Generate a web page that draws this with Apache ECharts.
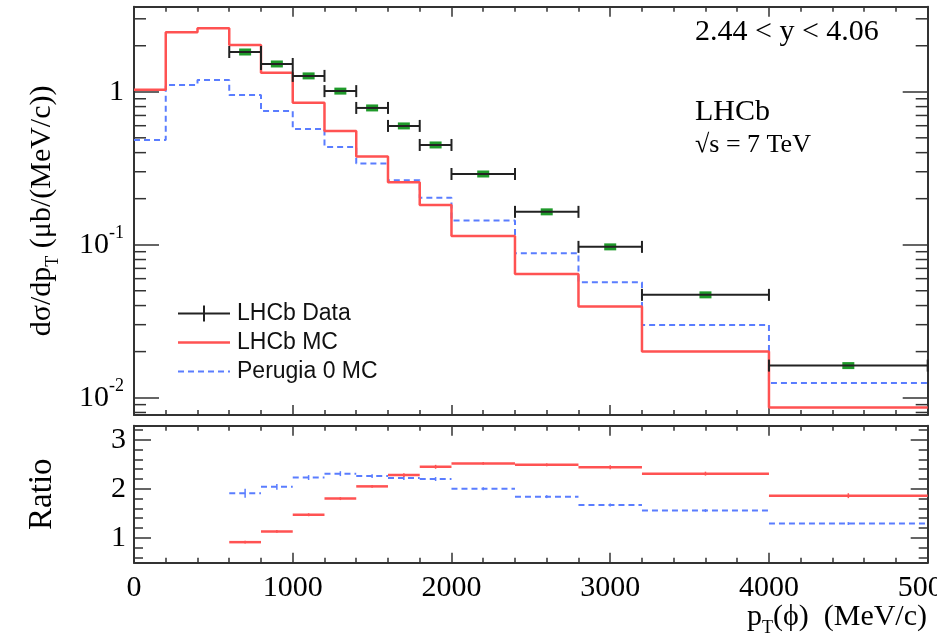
<!DOCTYPE html>
<html>
<head>
<meta charset="utf-8">
<title>phi pT spectrum</title>
<script src="https://cdn.jsdelivr.net/npm/echarts@6/dist/echarts.min.js"></script>
<style>
  html, body { margin: 0; padding: 0; background: #fff; }
  #main { width: 937px; height: 638px; }
</style>
</head>
<body>
<div id="main"></div>
<script>
// bin edges (MeV/c)
var mcEdges = [0, 200, 400, 600, 800, 1000, 1200, 1400, 1600, 1800, 2000, 2400, 2800, 3200, 4000, 5000];
var dataEdges = [600, 800, 1000, 1200, 1400, 1600, 1800, 2000, 2400, 2800, 3200, 4000, 5000];

// d sigma / d pT  (ub/(MeV/c))
var lhcbData = [1.82, 1.52, 1.27, 1.01, 0.784, 0.598, 0.449, 0.290, 0.164, 0.0968, 0.0470, 0.0162];
var lhcbMC = [1.03, 2.45, 2.60, 2.02, 1.33, 0.849, 0.554, 0.377, 0.256, 0.182, 0.114, 0.0644, 0.0394, 0.0200, 0.00861];
var perugiaMC = [0.484, 1.107, 1.194, 0.953, 0.749, 0.571, 0.436, 0.339, 0.264, 0.203, 0.144, 0.0880, 0.0569, 0.0299, 0.01245];

// ratio panel (data / MC)
var ratioMC = [0.91, 1.13, 1.47, 1.80, 2.05, 2.28, 2.45, 2.52, 2.49, 2.44, 2.31, 1.86];
var ratioMCErr = [0.03, 0.03, 0.03, 0.03, 0.03, 0.04, 0.04, 0.03, 0.03, 0.04, 0.04, 0.05];
var ratioPerugia = [1.91, 2.04, 2.23, 2.31, 2.26, 2.22, 2.20, 2.00, 1.84, 1.67, 1.555, 1.29];
var ratioPerugiaErr = [0.09, 0.06, 0.05, 0.05, 0.04, 0.04, 0.04, 0.03, 0.03, 0.03, 0.03, 0.03];

// axes
var xMin = 0, xMax = 5000, xStep = 1000;
var yMin = 0.0077, yMax = 3.6;
var yTickValues = [0.01, 0.1, 1];
var rMin = 0.49, rMax = 3.29;

var serif = 'Liberation Serif';
var sans = 'Liberation Sans';
var frameColor = '#333';
var red = '#ff5252';
var blue = '#5a7dff';

// histogram -> step line points
function stepPoints(edges, vals) {
  var pts = [];
  for (var i = 0; i < vals.length; i++) pts.push([edges[i], vals[i]]);
  pts.push([edges[edges.length - 1], vals[vals.length - 1]]);
  return pts;
}

function binItems(edges, vals, errs) {
  var out = [];
  for (var i = 0; i < vals.length; i++) out.push([edges[i], edges[i + 1], vals[i], errs ? errs[i] : 0]);
  return out;
}

// log minor ticks 2..9 x 10^k
var logMinor = [];
for (var k = -3; k <= 0; k++) {
  for (var m = 2; m <= 9; m++) {
    var v = m * Math.pow(10, k);
    if (v > yMin && v < yMax) logMinor.push([xMin, v]);
  }
}

function renderData(params, api) {
  var lo = api.coord([api.value(0), api.value(2)]);
  var hi = api.coord([api.value(1), api.value(2)]);
  var y = lo[1], mid = (lo[0] + hi[0]) / 2;
  var st = { stroke: '#222', lineWidth: 2 };
  return {
    type: 'group',
    children: [
      { type: 'rect', shape: { x: mid - 6, y: y - 3.5, width: 12, height: 7 }, style: { fill: '#1f9a2a' } },
      { type: 'line', shape: { x1: lo[0], y1: y, x2: hi[0], y2: y }, style: st },
      { type: 'line', shape: { x1: lo[0], y1: y - 6, x2: lo[0], y2: y + 6 }, style: st },
      { type: 'line', shape: { x1: hi[0], y1: y - 6, x2: hi[0], y2: y + 6 }, style: st }
    ]
  };
}

function ratioRenderer(color, dashed) {
  return function (params, api) {
    var lo = api.coord([api.value(0), api.value(2)]);
    var hi = api.coord([api.value(1), api.value(2)]);
    var mid = (api.value(0) + api.value(1)) / 2;
    var top = api.coord([mid, api.value(2) + api.value(3)]);
    var bot = api.coord([mid, api.value(2) - api.value(3)]);
    return {
      type: 'group',
      children: [
        { type: 'line', shape: { x1: lo[0], y1: lo[1], x2: hi[0], y2: hi[1] },
          style: { stroke: color, lineWidth: dashed ? 2 : 2.5, lineDash: dashed ? [6, 4] : null } },
        { type: 'line', shape: { x1: top[0], y1: top[1], x2: bot[0], y2: bot[1] },
          style: { stroke: color, lineWidth: 1.5 } }
      ]
    };
  };
}

function renderLogMinor(params, api) {
  var l = api.coord([xMin, api.value(1)]);
  var r = api.coord([xMax, api.value(1)]);
  var st = { stroke: frameColor, lineWidth: 1.5 };
  return {
    type: 'group',
    children: [
      { type: 'line', shape: { x1: l[0], y1: l[1], x2: l[0] + 12, y2: l[1] }, style: st },
      { type: 'line', shape: { x1: r[0], y1: r[1], x2: r[0] - 12, y2: r[1] }, style: st }
    ]
  };
}

function xAxisOf(grid, pos, withLabels) {
  return {
    type: 'value', gridIndex: grid, position: pos, min: xMin, max: xMax, interval: xStep,
    axisLine: { show: true, onZero: false, lineStyle: { color: frameColor, width: 2 } },
    axisTick: { show: true, inside: true, length: 10, lineStyle: { color: frameColor, width: 1.5 } },
    minorTick: { show: true, splitNumber: 5, length: 5, lineStyle: { color: frameColor, width: 1.5 } },
    splitLine: { show: false },
    axisLabel: withLabels ? {
      show: true, margin: 10, fontFamily: serif, fontSize: 30, color: '#000',
      formatter: function (v) { return String(v); }
    } : { show: false }
  };
}

var yRich = {
  b: { fontFamily: serif, fontSize: 30, color: '#000', lineHeight: 40 },
  s: { fontFamily: serif, fontSize: 18, color: '#000', lineHeight: 18, verticalAlign: 'top' }
};

function logAxisOf(pos, withLabels) {
  return {
    type: 'log', gridIndex: 0, position: pos, min: yMin, max: yMax, logBase: 10,
    axisLine: { show: true, onZero: false, lineStyle: { color: frameColor, width: 2 } },
    axisTick: { show: true, inside: true, length: 25, customValues: yTickValues, lineStyle: { color: frameColor, width: 1.5 } },
    splitLine: { show: false },
    axisLabel: withLabels ? {
      show: true, margin: 10, customValues: yTickValues,
      formatter: function (v) {
        var e = Math.round(Math.log10(v));
        if (e === 0) return '{b|1}';
        return '{b|10}{s|' + e + '}';
      },
      rich: yRich
    } : { show: false }
  };
}

function ratioAxisOf(pos, withLabels) {
  return {
    type: 'value', gridIndex: 1, position: pos, min: rMin, max: rMax, splitNumber: 3,
    axisLine: { show: true, onZero: false, lineStyle: { color: frameColor, width: 2 } },
    axisTick: { show: true, inside: true, length: 17, lineStyle: { color: frameColor, width: 1.5 } },
    minorTick: { show: true, splitNumber: 5, length: 9, lineStyle: { color: frameColor, width: 1.5 } },
    splitLine: { show: false },
    axisLabel: withLabels ? { show: true, margin: 8, showMinLabel: false, showMaxLabel: false,
      fontFamily: serif, fontSize: 30, color: '#000' } : { show: false }
  };
}

// legend icons (drawn in a 54x20 box)
var iconCross = 'path://M0,0 M54,20 M0,9 L52,9 L52,11 L0,11 Z M25,2 L27,2 L27,18 L25,18 Z';
var iconLine = 'path://M0,0 M54,20 M0,8.8 L52,8.8 L52,11.2 L0,11.2 Z';
var iconDash = 'path://M0,0 M54,20 M0,9 L6,9 L6,11 L0,11 Z M10,9 L16,9 L16,11 L10,11 Z M20,9 L26,9 L26,11 L20,11 Z M30,9 L36,9 L36,11 L30,11 Z M40,9 L46,9 L46,11 L40,11 Z M50,9 L52,9 L52,11 L50,11 Z';

var chart = echarts.init(document.getElementById('main'));

var yAxisLeft = logAxisOf('left', true);
yAxisLeft.name = '{a|dσ/dp}{t|T}{a| (μb/(MeV/c))}';
yAxisLeft.nameLocation = 'middle';
yAxisLeft.nameGap = 72;
yAxisLeft.nameTextStyle = {
  fontFamily: serif, fontSize: 30, color: '#000',
  rich: {
    a: { fontFamily: serif, fontSize: 30, color: '#000', lineHeight: 40 },
    t: { fontFamily: serif, fontSize: 18, color: '#000', lineHeight: 18, verticalAlign: 'bottom' }
  }
};

var ratioLeft = ratioAxisOf('left', true);
ratioLeft.name = 'Ratio';
ratioLeft.nameLocation = 'middle';
ratioLeft.nameGap = 72;
ratioLeft.nameTextStyle = { fontFamily: serif, fontSize: 33, color: '#000', lineHeight: 40 };

var option = {
  animation: false,
  backgroundColor: '#fff',
  grid: [
    { left: 134, right: 9.3, top: 6.7, height: 408.3, outerBoundsMode: 'none' },
    { left: 134, right: 9.3, top: 425.7, height: 137, outerBoundsMode: 'none' }
  ],
  xAxis: [
    xAxisOf(0, 'bottom', false),
    xAxisOf(0, 'top', false),
    xAxisOf(1, 'bottom', true),
    xAxisOf(1, 'top', false)
  ],
  yAxis: [
    yAxisLeft,
    logAxisOf('right', false),
    ratioLeft,
    ratioAxisOf('right', false)
  ],
  legend: {
    orient: 'vertical', left: 173, top: 297,
    itemWidth: 54, itemHeight: 20, itemGap: 6,
    itemStyle: { borderWidth: 0 },
    textStyle: { fontFamily: sans, fontSize: 23, color: '#111' },
    data: [
      { name: 'LHCb Data', icon: iconCross },
      { name: 'LHCb MC', icon: iconLine },
      { name: 'Perugia 0 MC', icon: iconDash }
    ]
  },
  graphic: [
    { type: 'text', x: 695, y: 32, silent: true,
      style: { text: '2.44 < y < 4.06', font: '30px "Liberation Serif"', fill: '#000', verticalAlign: 'middle' } },
    { type: 'text', x: 695, y: 112, silent: true,
      style: { text: 'LHCb', font: '30px "Liberation Serif"', fill: '#000', verticalAlign: 'middle' } },
    { type: 'text', x: 695, y: 145, silent: true,
      style: { text: '√s = 7 TeV', font: '26px "Liberation Serif"', fill: '#000', verticalAlign: 'middle' } },
    { type: 'text', x: 927, y: 617, silent: true,
      style: {
        text: '{a|p}{t|T}{a|(ϕ)  (MeV/c)}', align: 'right', verticalAlign: 'middle',
        rich: {
          a: { fontFamily: serif, fontSize: 30, fill: '#000', lineHeight: 40 },
          t: { fontFamily: serif, fontSize: 18, fill: '#000', lineHeight: 18, verticalAlign: 'bottom' }
        }
      } }
  ],
  series: [
    {
      name: 'Perugia 0 MC', type: 'line', xAxisIndex: 0, yAxisIndex: 0, step: 'end',
      symbol: 'none', color: blue,
      lineStyle: { color: blue, width: 2, type: [6, 4] },
      data: stepPoints(mcEdges, perugiaMC), z: 3
    },
    {
      name: 'LHCb MC', type: 'line', xAxisIndex: 0, yAxisIndex: 0, step: 'end',
      symbol: 'none', color: red,
      lineStyle: { color: red, width: 2.5 },
      data: stepPoints(mcEdges, lhcbMC), z: 4
    },
    {
      name: 'LHCb Data', type: 'custom', xAxisIndex: 0, yAxisIndex: 0,
      color: '#222', itemStyle: { color: '#222' },
      encode: { x: [0, 1], y: 2 },
      renderItem: renderData,
      data: binItems(dataEdges, lhcbData), z: 5
    },
    {
      name: 'log minor ticks', type: 'custom', xAxisIndex: 0, yAxisIndex: 0, silent: true,
      encode: { x: 0, y: 1 }, clip: false,
      renderItem: renderLogMinor,
      data: logMinor, z: 6
    },
    {
      name: 'ratio MC', type: 'custom', xAxisIndex: 2, yAxisIndex: 2,
      encode: { x: [0, 1], y: 2 },
      renderItem: ratioRenderer(red, false),
      data: binItems(dataEdges, ratioMC, ratioMCErr), z: 4
    },
    {
      name: 'ratio Perugia', type: 'custom', xAxisIndex: 2, yAxisIndex: 2,
      encode: { x: [0, 1], y: 2 },
      renderItem: ratioRenderer(blue, true),
      data: binItems(dataEdges, ratioPerugia, ratioPerugiaErr), z: 3
    }
  ]
};

chart.setOption(option);
</script>
</body>
</html>
